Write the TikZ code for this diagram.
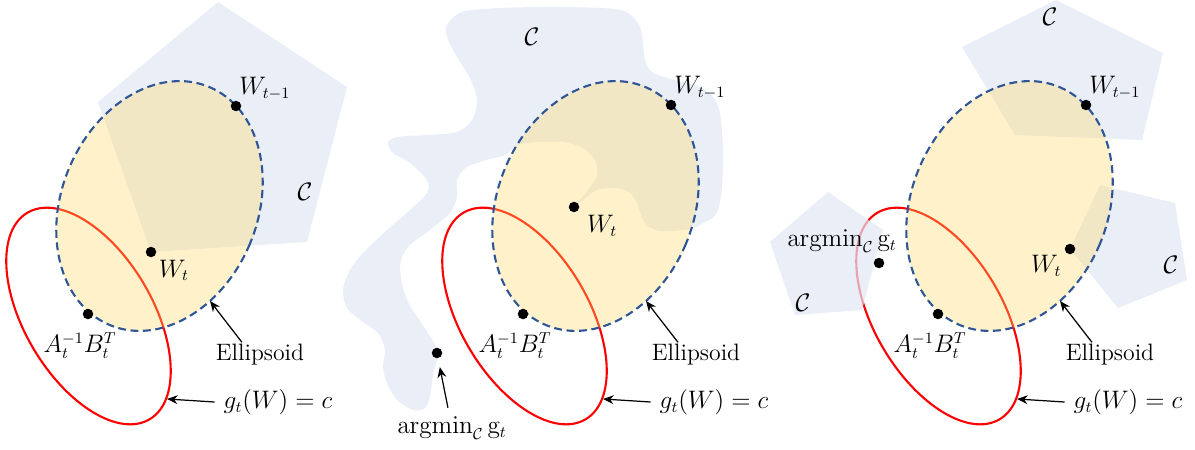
\documentclass[tikz,border=0pt]{standalone}
\usetikzlibrary{positioning,arrows.meta}

\definecolor{setblue}{RGB}{224,231,244}
\definecolor{ellyellow}{RGB}{255,217,102}
\definecolor{ellblue}{RGB}{47,85,151}
\definecolor{levelred}{RGB}{255,0,0}

\begin{document}
\begin{tikzpicture}[
  x=0.02cm, y=-0.02cm,
  font=\fontsize{13.5}{16}\selectfont,
  set/.style={fill=setblue, fill opacity=0.7},
  ellipsoid/.style={fill=ellyellow, fill opacity=0.34, draw=ellblue, line width=1.2pt, dash pattern=on 4.5pt off 2.6pt},
  level/.style={draw=levelred, line width=1.2pt},
  dot/.style={circle, fill=black, inner sep=0pt, minimum size=0.21cm},
  lab/.style={inner sep=1pt},
  arr/.style={-{Stealth[length=6pt, width=5pt]}, line width=0.7pt}
]
\useasboundingbox (0,0) rectangle (1195,449);

% level sets g_t(W)=c
\draw[level, rotate around={30.6:(88.5,316)}] (88.5,316) ellipse [x radius=64, y radius=120];
\draw[level, rotate around={30.6:(524.5,316)}] (524.5,316) ellipse [x radius=64, y radius=120];
\draw[level, rotate around={30.6:(938.5,316)}] (938.5,316) ellipse [x radius=64, y radius=120];

% constraint sets C
\path[set] (98,102) -- (218,2) -- (347,87) -- (307,242) -- (151,252) -- cycle;
\path[set] plot[smooth cycle, tension=0.5] coordinates {
  (447,25) (462,12) (500,8) (560,7) (615,9) (632,16) (641,30) (645,60) (652,72)
  (667,78) (700,87) (713,97) (720,113) (723,150) (722,187) (717,213) (705,222)
  (690,229) (660,231) (645,223) (637,203) (630,193) (617,188) (597,190) (575,206)
  (589,189) (597,175) (595,160) (583,148) (563,142) (540,142) (518,145) (505,155)
  (490,159) (467,167) (457,180) (457,197) (450,213) (430,230) (408,247) (400,267)
  (407,300) (428,333) (438,352) (433,375) (430,397) (425,408) (413,410) (397,400)
  (387,383) (383,367) (385,350) (378,333) (363,322) (347,308) (343,290) (350,270)
  (363,253) (387,230) (410,210) (427,193) (427,180) (410,163) (393,153) (388,143)
  (397,137) (427,135) (457,132) (472,120) (477,100) (470,78) (457,57) (447,37)};
\path[set] (962,47) -- (1056,0) -- (1163,53) -- (1142,140) -- (1015,135) -- cycle;
\path[set] (1070,249) -- (1100,185) -- (1175,203) -- (1187,280) -- (1118,308) -- cycle;
\path[set] (770,242) -- (828,192) -- (883,230) -- (862,310) -- (795,315) -- cycle;

% ellipsoids
\path[ellipsoid, rotate around={-22.7:(159.5,206)}] (159.5,206) ellipse [x radius=98, y radius=129];
\path[ellipsoid, rotate around={-22.7:(595.5,206)}] (595.5,206) ellipse [x radius=98, y radius=129];
\path[ellipsoid, rotate around={-22.7:(1009.5,206)}] (1009.5,206) ellipse [x radius=98, y radius=129];

\coordinate (e1) at (210,301);
\coordinate (e2) at (646,301);
\coordinate (e3) at (1060,301);
\coordinate (r1) at (167,399);
\coordinate (r2) at (603,399);
\coordinate (r3) at (1017,399);

% left panel
\node[dot] (wp1) at (236,106) {};
\node[dot] (w1) at (151,252) {};
\node[dot] (a1) at (88,314) {};
\node[lab, above right=0pt and -1.5pt of wp1] (wpl1) {$W_{t-1}$};
\node[lab, below right=1pt and 1pt of w1] (wl1) {$W_t$};
\node[lab, below=6pt of a1, xshift=-4.5pt] (al1) {$A_t^{-1}B_t^T$};
\node[lab] (c1) at (305,192) {$\mathcal{C}$};
\node[lab] (el1) at (260,355) {Ellipsoid};
\node[lab] (gl1) at (278,402) {$g_t(W)=c$};
\draw[arr] ([xshift=-0.36cm]el1.north) -- (e1);
\draw[arr] ([xshift=-4pt]gl1.west) -- (r1);

% middle panel
\node[dot] (wp2) at (671,105) {};
\node[dot] (w2) at (574,207) {};
\node[dot] (a2) at (523,314) {};
\node[dot] (am2) at (437,353) {};
\node[lab, above right=0pt and -1.5pt of wp2] (wpl2) {$W_{t-1}$};
\node[lab, below right=1.5pt and 4pt of w2] (wl2) {$W_t$};
\node[lab, below=6pt of a2, xshift=-4.5pt] (al2) {$A_t^{-1}B_t^T$};
\node[lab] (c2) at (532,37) {$\mathcal{C}$};
\node[lab] (aml2) at (452,428) {$\mathrm{argmin}_{\mathcal{C}}\,\mathrm{g}_t$};
\node[lab] (el2) at (696,355) {Ellipsoid};
\node[lab] (gl2) at (714,402) {$g_t(W)=c$};
\draw[arr, shorten <=4pt, shorten >=5pt] (aml2) -- (am2);
\draw[arr] ([xshift=-0.36cm]el2.north) -- (e2);
\draw[arr] ([xshift=-4pt]gl2.west) -- (r2);

% right panel
\node[dot] (wp3) at (1086,105) {};
\node[dot] (w3) at (1070,249) {};
\node[dot] (a3) at (938,314) {};
\node[dot] (am3) at (879,263) {};
\node[lab, above right=0pt and -1.5pt of wp3] (wpl3) {$W_{t-1}$};
\node[lab, below left=0pt and 1.5pt of w3] (wl3) {$W_t$};
\node[lab, below=6pt of a3, xshift=-4.5pt] (al3) {$A_t^{-1}B_t^T$};
\node[lab] (c3a) at (1050,17) {$\mathcal{C}$};
\node[lab] (c3b) at (1171,265) {$\mathcal{C}$};
\node[lab] (c3c) at (803,303) {$\mathcal{C}$};
\node[lab] (aml3) at (842,241) {$\mathrm{argmin}_{\mathcal{C}}\,\mathrm{g}_t$};
\node[lab] (el3) at (1110,355) {Ellipsoid};
\node[lab] (gl3) at (1128,402) {$g_t(W)=c$};
\draw[arr] ([xshift=-0.36cm]el3.north) -- (e3);
\draw[arr] ([xshift=-4pt]gl3.west) -- (r3);
\end{tikzpicture}
\end{document}
